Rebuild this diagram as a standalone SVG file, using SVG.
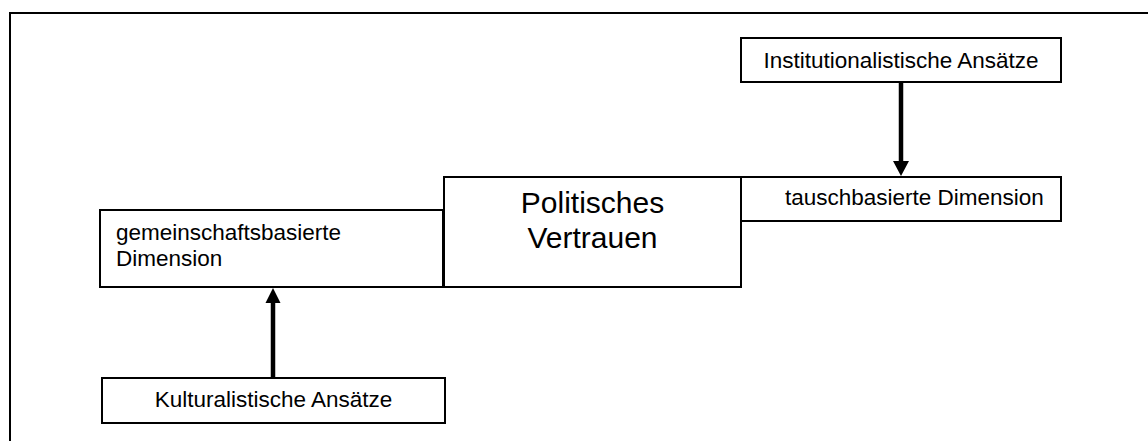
<svg xmlns="http://www.w3.org/2000/svg" width="1148" height="441" viewBox="0 0 1148 441">
<style>
.box{fill:#fff;stroke:#000;stroke-width:2}
.t{font-family:"Liberation Sans",Arial,sans-serif;font-size:22.5px;fill:#000}
.big{font-family:"Liberation Sans",Arial,sans-serif;font-size:30px;fill:#000}
.conn{stroke:#000;stroke-width:4.5;fill:none}
.head{fill:#000;stroke:none}
</style>
<rect x="10" y="13" width="1160" height="450" fill="#fff" stroke="#000" stroke-width="2"/>
<g id="connectors">
<line class="conn" x1="273" y1="378" x2="273" y2="300"/>
<polygon class="head" points="273,288 265.5,303 280.5,303"/>
<line class="conn" x1="901" y1="82" x2="901" y2="164"/>
<polygon class="head" points="901,176 893,161 909,161"/>
</g>
<g id="gemeinschaft">
<rect class="box" x="100" y="210" width="343" height="77"/>
<text class="t" x="116" y="240">gemeinschaftsbasierte</text>
<text class="t" x="116" y="266">Dimension</text>
</g>
<g id="politisch">
<rect class="box" x="444" y="177" width="297" height="110"/>
<text class="big" x="592.5" y="213" text-anchor="middle">Politisches</text>
<text class="big" x="592.5" y="248" text-anchor="middle">Vertrauen</text>
</g>
<g id="tausch">
<rect class="box" x="741" y="177" width="320" height="44"/>
<text class="t" x="785" y="205">tauschbasierte Dimension</text>
</g>
<g id="institution">
<rect class="box" x="741" y="38" width="320" height="44"/>
<text class="t" x="901" y="68" text-anchor="middle">Institutionalistische Ansätze</text>
</g>
<g id="kultur">
<rect class="box" x="102" y="378" width="343" height="45"/>
<text class="t" x="273.5" y="407" text-anchor="middle">Kulturalistische Ansätze</text>
</g>
</svg>
